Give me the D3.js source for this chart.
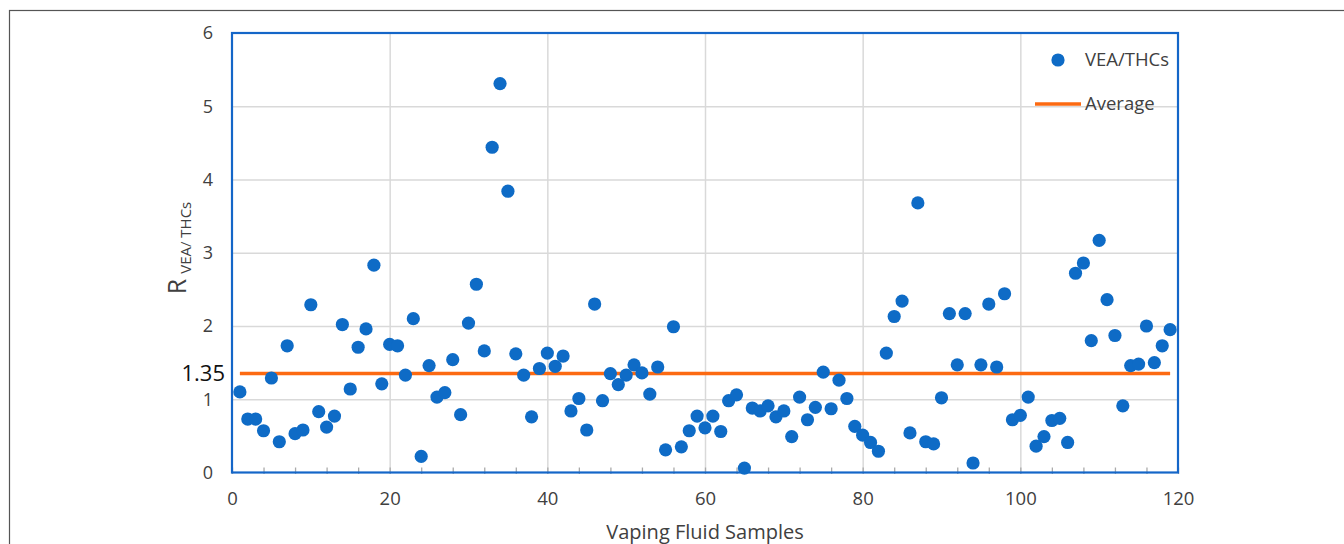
<!DOCTYPE html>
<html>
<head>
<meta charset="utf-8">
<script src="https://cdn.jsdelivr.net/npm/d3@7"></script>
<style>
  body { margin: 0; background: #fff; }
  svg { display: block; font-family: "Open Sans", sans-serif; }
</style>
</head>
<body>
<svg width="1344" height="544"></svg>
<script>
// VEA / THCs ratio for each vaping fluid sample (1..119)
var ratios = [
  1.10, 0.73, 0.73, 0.57, 1.29, 0.42, 1.73, 0.53, 0.58, 2.29,
  0.83, 0.62, 0.77, 2.02, 1.14, 1.71, 1.96, 2.83, 1.21, 1.75,
  1.73, 1.33, 2.10, 0.22, 1.46, 1.03, 1.09, 1.54, 0.79, 2.04,
  2.57, 1.66, 4.44, 5.31, 3.84, 1.62, 1.33, 0.76, 1.42, 1.63,
  1.45, 1.59, 0.84, 1.01, 0.58, 2.30, 0.98, 1.35, 1.20, 1.33,
  1.47, 1.36, 1.07, 1.44, 0.31, 1.99, 0.35, 0.57, 0.77, 0.61,
  0.77, 0.56, 0.98, 1.06, 0.06, 0.88, 0.84, 0.91, 0.76, 0.84,
  0.49, 1.03, 0.72, 0.89, 1.37, 0.87, 1.26, 1.01, 0.63, 0.51,
  0.41, 0.29, 1.63, 2.13, 2.34, 0.54, 3.68, 0.42, 0.39, 1.02,
  2.17, 1.47, 2.17, 0.13, 1.47, 2.30, 1.44, 2.44, 0.72, 0.78,
  1.03, 0.36, 0.49, 0.71, 0.74, 0.41, 2.72, 2.86, 1.80, 3.17,
  2.36, 1.87, 0.91, 1.46, 1.48, 2.00, 1.50, 1.73, 1.95
];
var average = 1.35;
var averageSpan = [1, 119];
var xTicks = [0, 20, 40, 60, 80, 100, 120];
var xMinorTicks = d3.range(0, 121, 4);
var yTicks = [0, 1, 2, 3, 4, 5, 6];
var legendLabels = ["VEA/THCs", "Average"];

var svg = d3.select("svg");
var plotLeft = 232, plotRight = 1178, plotTop = 33, plotBottom = 472.5;
var blue = "#0e6bc6", orange = "#fc6a12", grid = "#d9d9d9", ink = "#404040";

var x = d3.scaleLinear().domain([0, 120]).range([plotLeft, plotRight]);
var y = d3.scaleLinear().domain([0, 6]).range([plotBottom, plotTop]);

// outer figure frame
svg.append("rect")
  .attr("x", 9.5).attr("y", 10.5)
  .attr("width", 1400).attr("height", 600)
  .attr("fill", "none").attr("stroke", "#555").attr("stroke-width", 1.2);

// gridlines
svg.append("g")
  .attr("transform", "translate(0," + plotBottom + ")")
  .call(d3.axisBottom(x).tickValues(xTicks.slice(1, -1)).tickSize(-(plotBottom - plotTop)).tickFormat(""))
  .call(function (g) {
    g.select(".domain").remove();
    g.selectAll("line").attr("stroke", grid).attr("stroke-width", 1.5);
  });
svg.append("g")
  .attr("transform", "translate(" + plotLeft + ",0)")
  .call(d3.axisLeft(y).tickValues(yTicks.slice(1, -1)).tickSize(-(plotRight - plotLeft)).tickFormat(""))
  .call(function (g) {
    g.select(".domain").remove();
    g.selectAll("line").attr("stroke", grid).attr("stroke-width", 1.5);
  });

// minor tick marks on x axis
svg.append("g")
  .attr("transform", "translate(0," + plotBottom + ")")
  .call(d3.axisBottom(x).tickValues(xMinorTicks).tickSize(-5).tickFormat(""))
  .call(function (g) {
    g.select(".domain").remove();
    g.selectAll("line").attr("stroke", "#aaa").attr("stroke-width", 1.3).attr("y2", -5).attr("y1", 1.5);
  });

// plot frame
svg.append("rect")
  .attr("x", plotLeft).attr("y", plotTop)
  .attr("width", plotRight - plotLeft).attr("height", plotBottom - plotTop)
  .attr("fill", "none").attr("stroke", "#1466c8").attr("stroke-width", 2.2);

// x tick labels
svg.append("g")
  .attr("transform", "translate(0," + plotBottom + ")")
  .call(d3.axisBottom(x).tickValues(xTicks).tickSize(0).tickPadding(19).tickFormat(d3.format("d")))
  .call(function (g) {
    g.select(".domain").remove();
    g.selectAll("text").attr("font-size", 18.5).attr("fill", ink)
      .attr("font-family", "'Open Sans', sans-serif");
  });

// y tick labels
svg.append("g")
  .attr("transform", "translate(" + plotLeft + ",0)")
  .call(d3.axisLeft(y).tickValues(yTicks).tickSize(0).tickPadding(19).tickFormat(d3.format("d")))
  .call(function (g) {
    g.select(".domain").remove();
    g.selectAll("text").attr("font-size", 18).attr("fill", ink)
      .attr("font-family", "'Open Sans', sans-serif");
  });

// average value label
svg.append("text")
  .attr("x", 225).attr("y", y(average))
  .attr("dy", "0.35em")
  .attr("text-anchor", "end")
  .attr("font-size", 22).attr("fill", "#111")
  .text(average.toFixed(2));

// average line
svg.append("line")
  .attr("x1", x(averageSpan[0])).attr("x2", x(averageSpan[1]))
  .attr("y1", y(average)).attr("y2", y(average))
  .attr("stroke", orange).attr("stroke-width", 3.5);

// points
svg.append("g")
  .selectAll("circle")
  .data(ratios)
  .enter().append("circle")
    .attr("cx", function (d, i) { return x(i + 1); })
    .attr("cy", function (d) { return y(d); })
    .attr("r", 6.6)
    .attr("fill", blue);

// axis titles
svg.append("text")
  .attr("x", (plotLeft + plotRight) / 2).attr("y", 539)
  .attr("text-anchor", "middle")
  .attr("font-size", 20).attr("fill", ink)
  .text("Vaping Fluid Samples");

var yTitle = svg.append("text")
  .attr("transform", "translate(186,248) rotate(-90)")
  .attr("text-anchor", "middle")
  .attr("fill", ink);
yTitle.append("tspan").attr("font-size", 25).text("R");
yTitle.append("tspan").attr("font-size", 15).attr("dx", 5).attr("dy", 5).text("VEA/ THCs");

// legend
var legend = svg.append("g");
legend.append("circle")
  .attr("cx", 1058).attr("cy", 60).attr("r", 6.6).attr("fill", blue);
legend.append("line")
  .attr("x1", 1035).attr("x2", 1081).attr("y1", 104).attr("y2", 104)
  .attr("stroke", orange).attr("stroke-width", 3.5);
legend.selectAll("text")
  .data(legendLabels)
  .enter().append("text")
    .attr("x", 1085)
    .attr("y", function (d, i) { return 60 + i * 44; })
    .attr("dy", "0.35em")
    .attr("font-size", 18.5).attr("fill", ink)
    .text(function (d) { return d; });
</script>
</body>
</html>
